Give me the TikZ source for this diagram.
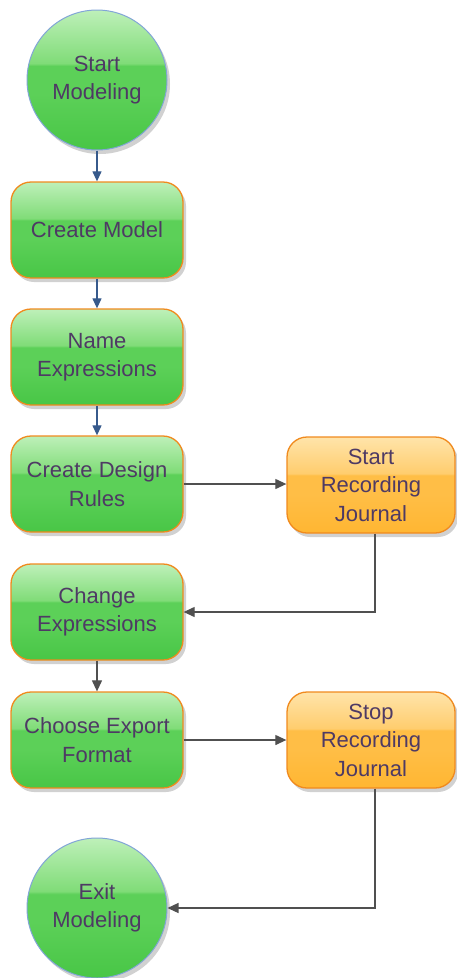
\documentclass[tikz,border=0pt]{standalone}
\usepackage{fontspec}
\setmainfont{Liberation Sans}
\usetikzlibrary{arrows.meta,shadows,positioning}

\definecolor{txt}{RGB}{78,58,100}
\definecolor{boxedge}{RGB}{240,138,30}
\definecolor{ringedge}{RGB}{130,165,215}
\definecolor{flowblue}{RGB}{55,90,140}
\definecolor{flowgray}{RGB}{80,80,80}
\definecolor{gTop}{RGB}{190,240,185}
\definecolor{gUp}{RGB}{128,220,120}
\definecolor{gMid}{RGB}{92,208,88}
\definecolor{gLow}{RGB}{72,198,70}
\definecolor{oTop}{RGB}{255,228,170}
\definecolor{oUp}{RGB}{255,205,110}
\definecolor{oMid}{RGB}{255,190,70}
\definecolor{oLow}{RGB}{255,182,50}

% glossy vertical fills (bottom to top, path spans 25bp..75bp)
\pgfdeclareverticalshading{greengloss}{100bp}{%
  color(0bp)=(gLow); color(25bp)=(gLow); color(45bp)=(gMid);
  color(55bp)=(gMid); color(56bp)=(gUp); color(75bp)=(gTop); color(100bp)=(gTop)}
\pgfdeclareverticalshading{orangegloss}{100bp}{%
  color(0bp)=(oLow); color(25bp)=(oLow); color(45bp)=(oMid);
  color(55bp)=(oMid); color(56bp)=(oUp); color(75bp)=(oTop); color(100bp)=(oTop)}

\tikzset{
  x=1pt, y=-1pt,
  lbl/.style={font=\fontsize{22}{28.5}\selectfont, text=txt, align=center},
  softshadow/.style={drop shadow={shadow xshift=3pt, shadow yshift=-4pt,
      fill=black, opacity=0.18}},
  stepbox/.style={lbl, rectangle, rounded corners=20pt, draw=boxedge,
      line width=1.3pt, minimum width=172pt, minimum height=96pt,
      inner sep=0pt, shading=greengloss, softshadow},
  journalbox/.style={stepbox, minimum width=168pt, shading=orangegloss},
  terminal/.style={lbl, circle, draw=ringedge, line width=1pt,
      minimum size=140pt, inner sep=0pt, shading=greengloss, softshadow},
  blueflow/.style={draw=flowblue, line width=1.2pt,
      -{Triangle[length=10pt,width=9pt]}},
  grayflow/.style={draw=flowgray, line width=1.2pt,
      -{Triangle[length=11pt,width=10pt]}},
}

\begin{document}
\begin{tikzpicture}
\useasboundingbox (0,0) rectangle (456,978);

\node[terminal]   (start)  at (97,80)  {Start\\Modeling};
\node[stepbox]    (model)  at (97,230) {Create Model};
\node[stepbox]    (names)  at (97,357) {Name\\Expressions};
\node[stepbox]    (rules)  at (97,484) {Create Design\\Rules};
\node[journalbox] (rec)    at (371,485) {Start\\Recording\\Journal};
\node[stepbox]    (change) at (97,612) {Change\\Expressions};
\node[stepbox]    (export) at (97,740) {Choose Export\\Format};
\node[journalbox] (stop)   at (371,740) {Stop\\Recording\\Journal};
\node[terminal]   (exit)   at (97,908) {Exit\\Modeling};

\coordinate (recturn)  at (375,612);
\coordinate (stopturn) at (375,908);

\draw[blueflow] (start) -- (model);
\draw[blueflow] (model) -- (names);
\draw[blueflow] (names) -- (rules);
\draw[grayflow] (rules) -- (rules -| rec.west);
\draw[grayflow] (rec.south -| recturn) -- (recturn) -- (change.east |- recturn);
\draw[grayflow] (change) -- (export);
\draw[grayflow] (export) -- (export -| stop.west);
\draw[grayflow] (stop.south -| stopturn) -- (stopturn) -- (exit.east |- stopturn);
\end{tikzpicture}
\end{document}
